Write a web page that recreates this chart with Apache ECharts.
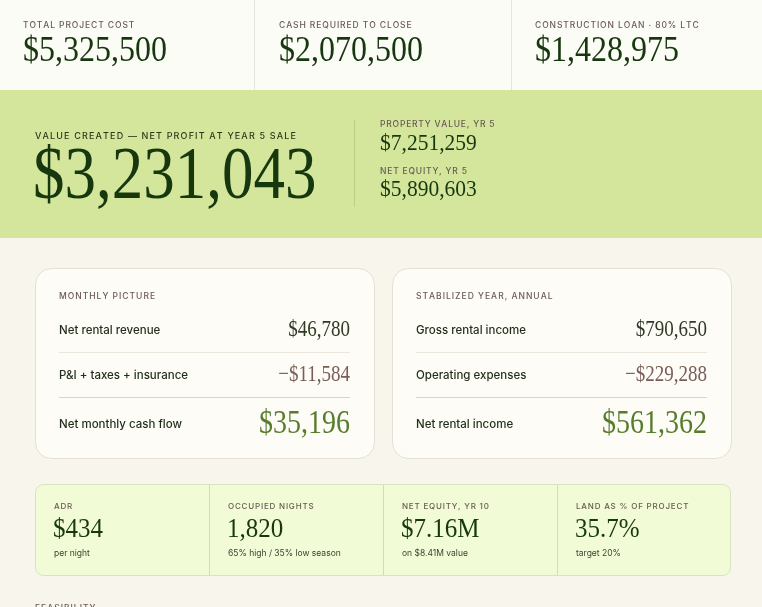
<!DOCTYPE html>
<html style="height: 100%">
<head>
  <meta charset="utf-8">
  <title>deal summary</title>
</head>
<body style="height: 100%; margin: 0; background: #f8f6ec">
<div id="container" style="width: 762px; height: 607px"></div>
<script src="https://cdn.jsdelivr.net/npm/echarts@6/dist/echarts.min.js"></script>
<script type="text/javascript">
  // headline numbers
  var topLabels = ['TOTAL PROJECT COST', 'CASH REQUIRED TO CLOSE', 'CONSTRUCTION LOAN · 80% LTC'];
  var topValues = ['$5,325,500', '$2,070,500', '$1,428,975'];

  var heroLabel = 'VALUE CREATED — NET PROFIT AT YEAR 5 SALE';
  var heroValue = '$3,231,043';
  var heroSideLabels = ['PROPERTY VALUE, YR 5', 'NET EQUITY, YR 5'];
  var heroSideValues = ['$7,251,259', '$5,890,603'];

  // two cards
  var cardTitles = ['MONTHLY PICTURE', 'STABILIZED YEAR, ANNUAL'];
  var monthlyRows = ['Net rental revenue', 'P&I + taxes + insurance', 'Net monthly cash flow'];
  var monthlyValues = ['$46,780', '−$11,584', '$35,196'];
  var annualRows = ['Gross rental income', 'Operating expenses', 'Net rental income'];
  var annualValues = ['$790,650', '−$229,288', '$561,362'];

  // bottom strip
  var stripLabels = ['ADR', 'OCCUPIED NIGHTS', 'NET EQUITY, YR 10', 'LAND AS % OF PROJECT'];
  var stripValues = ['$434', '1,820', '$7.16M', '35.7%'];
  var stripNotes = ['per night', '65% high / 35% low season', 'on $8.41M value', 'target 20%'];

  var nextSection = 'FEASIBILITY';

  var SANS = 'Inter, "Noto Sans", sans-serif';
  var SERIF = '"Liberation Serif", "DejaVu Serif", serif';
  var DARK = '#17380f';
  var LABEL = '#6a5a55';

  var dom = document.getElementById('container');
  var myChart = echarts.init(dom, null, { renderer: 'canvas' });
  var measure = document.createElement('canvas').getContext('2d');

  var els = [];

  function rect(x, y, w, h, fill, stroke, r) {
    els.push({
      type: 'rect',
      shape: { x: x, y: y, width: w, height: h, r: r || 0 },
      style: { fill: fill, stroke: stroke || null, lineWidth: stroke ? 1 : 0 }
    });
  }
  function line(x1, y1, x2, y2, color) {
    els.push({
      type: 'line',
      shape: { x1: x1, y1: y1, x2: x2, y2: y2 },
      style: { stroke: color, lineWidth: 1 }
    });
  }
  function label(x, y, txt, size, color, align, weight) {
    els.push({
      type: 'text', x: x, y: y,
      style: {
        text: txt, fontFamily: SANS, fontSize: size || 9, fontWeight: weight || 500,
        fill: color || LABEL, align: align || 'left', verticalAlign: 'middle'
      }
    });
  }
  // caps label with tracking: zrender has no letterSpacing, so lay out char by char
  function caps(x, y, txt, size, color, spacing) {
    measure.font = '500 ' + size + 'px ' + SANS;
    var children = [];
    var cx = 0;
    for (var i = 0; i < txt.length; i++) {
      var ch = txt.charAt(i);
      children.push({
        type: 'text', x: cx, y: 0,
        style: {
          text: ch, fontFamily: SANS, fontSize: size, fontWeight: 500,
          fill: color || LABEL, verticalAlign: 'middle'
        }
      });
      cx += measure.measureText(ch).width + spacing;
    }
    els.push({ type: 'group', x: x, y: y, children: children });
  }
  // serif figures, stretched a little taller like the display face
  function figure(x, y, txt, size, color, align, sy) {
    els.push({
      type: 'text', x: x, y: y, scaleY: sy || 1.12,
      style: {
        text: txt, fontFamily: SERIF, fontSize: size, fill: color || DARK,
        align: align || 'left', verticalAlign: 'middle'
      }
    });
  }

  // backgrounds
  rect(0, 0, 762, 607, '#f8f6ec');
  rect(0, 0, 762, 90, '#fcfcf6');
  rect(0, 90, 762, 148, '#d4e69b');
  line(254.5, 0, 254.5, 90, '#e6e4dc');
  line(511.5, 0, 511.5, 90, '#e6e4dc');

  // top row
  var topX = [23, 279, 535];
  for (var i = 0; i < topLabels.length; i++) {
    caps(topX[i], 25, topLabels[i], 8.5, LABEL, 0.9);
    figure(topX[i], 52, topValues[i], 32);
  }

  // hero band
  caps(35, 136, heroLabel, 9, '#2c3a1c', 1.15);
  figure(33, 178, heroValue, 63, DARK, 'left', 1.18);
  line(354.5, 120, 354.5, 207, '#bccf84');
  for (var k = 0; k < heroSideLabels.length; k++) {
    caps(380, 124 + k * 47, heroSideLabels[k], 8.5, LABEL, 0.8);
    figure(380, 144 + k * 46, heroSideValues[k], 21.5);
  }

  // cards
  var cards = [
    { x: 35, rows: monthlyRows, vals: monthlyValues },
    { x: 392, rows: annualRows, vals: annualValues }
  ];
  var rowY = [331, 376, 425];
  var valColors = ['#2f3a26', '#7a5d58', '#587c2e'];
  var valSizes = [19, 19, 28];
  for (var c = 0; c < cards.length; c++) {
    var cx = cards[c].x;
    rect(cx + 0.5, 268.5, 339, 190, '#fdfcf6', '#e4e0d3', 16);
    caps(cx + 24, 296, cardTitles[c], 8.5, LABEL, 1.0);
    line(cx + 24, 352.5, cx + 315, 352.5, '#ebe7dc');
    line(cx + 24, 397.5, cx + 315, 397.5, '#d9d5c9');
    for (var r = 0; r < 3; r++) {
      label(cx + 24, rowY[r], cards[c].rows[r], 11.5, '#1f2d1a', 'left', 500);
      figure(cx + 315, rowY[r] - 1, cards[c].vals[r], valSizes[r], valColors[r], 'right', 1.22);
    }
  }

  // bottom strip
  rect(35.5, 484.5, 695, 91, '#f1fbd5', '#d9e4bf', 8);
  for (var s = 0; s < stripLabels.length; s++) {
    var sx = 35 + s * 174;
    if (s > 0) line(sx + 0.5, 485, sx + 0.5, 575, '#d3dcb8');
    caps(sx + 19, 507, stripLabels[s], 8, LABEL, 0.8);
    figure(sx + 18, 530, stripValues[s], 25);
    label(sx + 19, 553, stripNotes[s], 8.5, '#3c4232', 'left', 400);
  }

  // next section heading, cut by the page edge
  caps(35, 608.5, nextSection, 8.5, LABEL, 1.0);

  myChart.setOption({
    animation: false,
    graphic: { elements: els }
  });
</script>
</body>
</html>
